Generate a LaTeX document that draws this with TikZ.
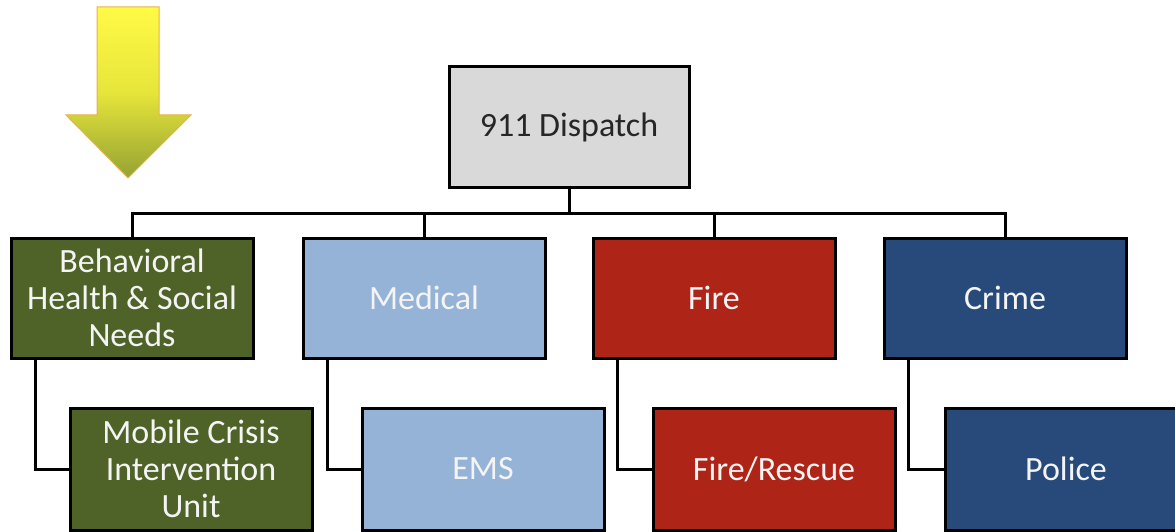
\documentclass[tikz,border=0pt]{standalone}
\usepackage{fontspec}
\setmainfont{Carlito}
\definecolor{dispgray}{HTML}{D9D9D9}
\definecolor{olive}{HTML}{4F6228}
\definecolor{lightblue}{HTML}{95B3D7}
\definecolor{firered}{HTML}{AE2417}
\definecolor{navy}{HTML}{284A7B}
\definecolor{txtwhite}{HTML}{F4F4F4}
\definecolor{txtdark}{HTML}{262626}
\definecolor{arrowedge}{HTML}{E8B050}
\definecolor{arrowtop}{HTML}{FFFA45}
\definecolor{arrowmid}{HTML}{E6E53A}
\definecolor{arrowbot}{HTML}{95A232}
\begin{document}
\begin{tikzpicture}[x=1pt,y=-1pt,
  box/.style={draw=black, line width=3pt, minimum width=242pt, minimum height=120pt,
    inner sep=0pt, align=center, font=\fontsize{34}{37}\selectfont, text=txtwhite},
  conn/.style={draw=black, line width=3pt}]
\useasboundingbox (0,0) rectangle (1175,532);
% yellow arrow
\path[draw=arrowedge, line width=1pt, top color=arrowtop, bottom color=arrowbot, middle color=arrowmid]
  (97,7) -- (159,7) -- (159,115) -- (191,115) -- (128,178) -- (66,115) -- (97,115) -- cycle;
% nodes
\node[box, fill=dispgray, text=txtdark, minimum width=240pt] (disp) at (569,127) {911 Dispatch};
\node[box, fill=olive] (beh) at (132,298) {Behavioral\\Health \& Social\\Needs};
\node[box, fill=lightblue] (med) at (424,298) {Medical};
\node[box, fill=firered] (fire) at (714,298) {Fire};
\node[box, fill=navy] (crime) at (1005,298) {Crime};
\node[box, fill=olive, minimum height=122pt] (mob) at (191,469) {Mobile Crisis\\Intervention\\Unit};
\node[box, fill=lightblue, minimum height=122pt] (ems) at (483,469) {EMS};
\node[box, fill=firered, minimum height=122pt] (fres) at (774,469) {Fire/Rescue};
\node[box, fill=navy, minimum height=122pt] (pol) at (1066,469) {Police};
% bus
\coordinate (bus) at (0,213);
\draw[conn] (disp.south) -- (disp.south |- bus);
\draw[conn] (beh.north) -- (beh.north |- bus) -- (crime.north |- bus) -- (crime.north);
\draw[conn] (med.north) -- (med.north |- bus);
\draw[conn] (fire.north) -- (fire.north |- bus);
% elbows
\draw[conn] ([xshift=26pt]beh.south west) |- (mob.west);
\draw[conn] ([xshift=26pt]med.south west) |- (ems.west);
\draw[conn] ([xshift=26pt]fire.south west) |- (fres.west);
\draw[conn] ([xshift=26pt]crime.south west) |- (pol.west);
\end{tikzpicture}
\end{document}
